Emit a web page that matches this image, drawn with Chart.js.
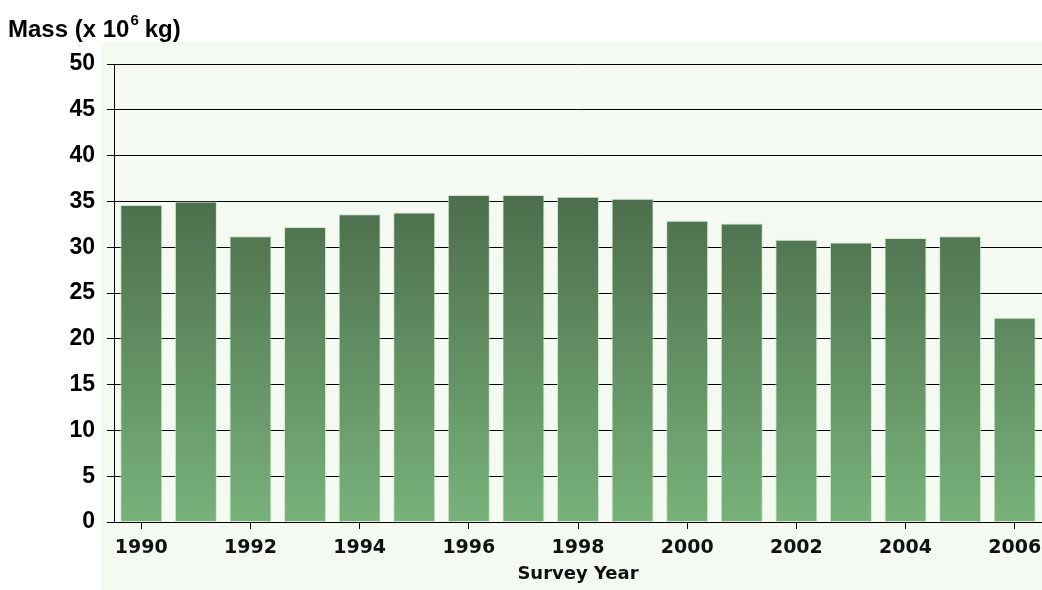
<!DOCTYPE html>
<html>
<head>
<meta charset="utf-8">
<script src="https://cdn.jsdelivr.net/npm/chart.js@4"></script>
<style>
  html, body { margin: 0; padding: 0; background: #fff; }
  #wrap { width: 1042px; height: 590px; position: relative; }
</style>
</head>
<body>
<div id="wrap"><canvas id="massChart"></canvas></div>
<script>
const years = ["1990", "1991", "1992", "1993", "1994", "1995", "1996", "1997", "1998",
  "1999", "2000", "2001", "2002", "2003", "2004", "2005", "2006"]
const mass = [34.6, 35.0, 31.2, 32.2, 33.6, 33.8, 35.7, 35.7, 35.5,
  35.3, 32.9, 32.6, 30.8, 30.5, 31.0, 31.2, 22.3]

const labelFont = "'Liberation Sans', Arial, sans-serif"

// light green panel behind the plot + y title with superscript
const panelPlugin = {
  id: "panel",
  beforeDraw(chart) {
    const ctx = chart.ctx
    ctx.save()
    ctx.fillStyle = "#f4faf1"
    ctx.fillRect(101, 42, chart.width - 101, chart.height - 42)
    ctx.restore()
  },
  afterDraw(chart) {
    const ctx = chart.ctx
    ctx.save()
    ctx.fillStyle = "#000"
    ctx.textBaseline = "alphabetic"
    ctx.font = "bold 24px " + labelFont
    let x = 8
    const y = 37
    ctx.fillText("Mass (x 10", x, y)
    x += ctx.measureText("Mass (x 10").width
    ctx.font = "bold 15px " + labelFont
    ctx.fillText("6", x + 1, y - 12)
    x += ctx.measureText("6").width + 7
    ctx.font = "bold 24px " + labelFont
    ctx.fillText("kg)", x, y)
    ctx.restore()
  }
}

function barGradient(context) {
  const area = context.chart.chartArea
  if (!area) return "#5a8a5a"
  const g = context.chart.ctx.createLinearGradient(0, area.top, 0, area.bottom)
  g.addColorStop(0, "#3a5239")
  g.addColorStop(1, "#78b27a")
  return g
}

const ctx = document.getElementById("massChart").getContext("2d")
new Chart(ctx, {
  type: "bar",
  data: {
    labels: years,
    datasets: [{
      data: mass,
      backgroundColor: barGradient,
      borderColor: "rgba(200, 225, 200, 0.8)",
      borderWidth: 1,
      categoryPercentage: 1,
      barPercentage: 0.77
    }]
  },
  options: {
    responsive: true,
    maintainAspectRatio: false,
    animation: false,
    layout: { padding: { top: 64, right: 0, bottom: 0, left: 0 } },
    plugins: {
      legend: { display: false },
      tooltip: { enabled: false }
    },
    scales: {
      y: {
        min: 0,
        max: 50,
        afterFit: (s) => { s.width = 114; s.paddingTop = 0 },
        ticks: {
          stepSize: 5,
          color: "#000",
          padding: 12,
          font: { family: labelFont, size: 23, weight: "bold" }
        },
        grid: { color: "#000", lineWidth: 1, tickLength: 7 },
        border: { color: "#000", width: 1 }
      },
      x: {
        afterFit: (s) => { s.height = 68; s.paddingLeft = 0; s.paddingRight = 0 },
        ticks: {
          autoSkip: false,
          maxRotation: 0,
          color: "#111",
          padding: 8,
          font: { family: "'DejaVu Sans', sans-serif", size: 19, weight: "bold" },
          callback: function (val, i) { return i % 2 === 0 ? this.getLabelForValue(val) : null }
        },
        grid: { drawOnChartArea: false, offset: false, color: "#000", tickLength: 7 },
        border: { color: "#000", width: 1 },
        title: {
          display: true,
          text: "Survey Year",
          color: "#111",
          padding: { top: 0, bottom: 5 },
          font: { family: "'DejaVu Sans', sans-serif", size: 18, weight: "bold" }
        }
      }
    }
  },
  plugins: [panelPlugin]
})
</script>
</body>
</html>
